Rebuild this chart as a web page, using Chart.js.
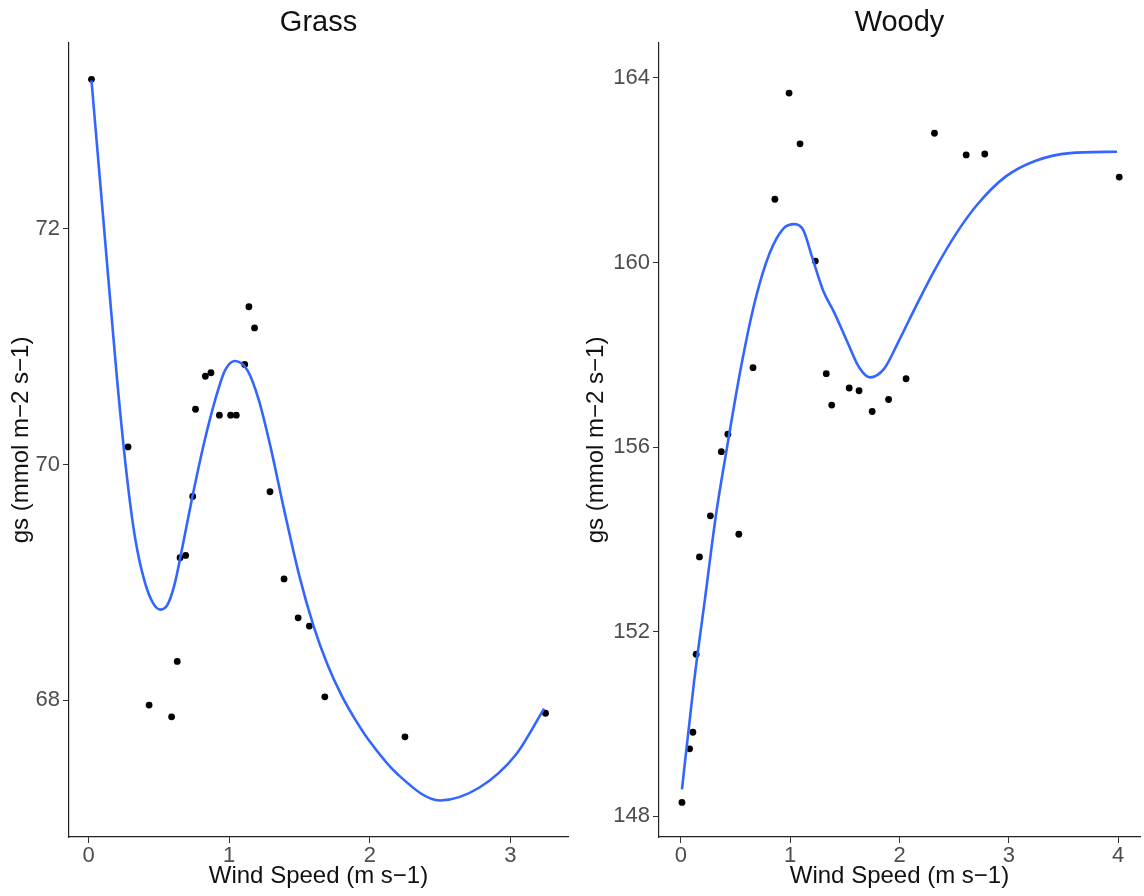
<!DOCTYPE html>
<html>
<head>
<meta charset="utf-8">
<script src="https://cdn.jsdelivr.net/npm/chart.js@4"></script>
<style>
  body { margin: 0; background: #fff; }
  .panel { position: absolute; top: 0; width: 572px; height: 896px; }
</style>
</head>
<body>
<div class="panel" style="left:0"><canvas id="grass" width="572" height="896"></canvas></div>
<div class="panel" style="left:572px"><canvas id="woody" width="572" height="896"></canvas></div>
<script>
// Grass: measured points
const grassX = [0.02, 0.28, 0.43, 0.59, 0.63, 0.65, 0.69, 0.74, 0.76, 0.83, 0.87, 0.93, 1.01, 1.05, 1.11, 1.14, 1.18, 1.29, 1.39, 1.49, 1.57, 1.68, 2.25, 3.25];
const grassY = [73.27, 70.15, 67.96, 67.86, 68.33, 69.21, 69.23, 69.73, 70.47, 70.75, 70.78, 70.42, 70.42, 70.42, 70.85, 71.34, 71.16, 69.77, 69.03, 68.70, 68.63, 68.03, 67.69, 67.89];
// Grass: smoothed fit
const grassFitX = [0.02, 0.11, 0.20, 0.27, 0.33, 0.40, 0.46, 0.51, 0.56, 0.61, 0.67, 0.74, 0.82, 0.90, 0.97, 1.04, 1.13, 1.21, 1.29, 1.39, 1.50, 1.60, 1.70, 1.80, 1.90, 2.00, 2.20, 2.50, 2.78, 3.04, 3.24];
const grassFitY = [73.26, 72.0, 70.75, 69.92, 69.38, 69.0, 68.82, 68.77, 68.81, 68.98, 69.32, 69.74, 70.18, 70.55, 70.80, 70.88, 70.80, 70.55, 70.17, 69.62, 69.05, 68.63, 68.30, 68.04, 67.83, 67.65, 67.37, 67.15, 67.26, 67.54, 67.93];

// Woody: measured points
const woodyX = [0.01, 0.08, 0.11, 0.14, 0.17, 0.27, 0.37, 0.43, 0.53, 0.66, 0.86, 0.99, 1.09, 1.23, 1.33, 1.38, 1.54, 1.63, 1.75, 1.90, 2.06, 2.32, 2.61, 2.78, 4.01];
const woodyY = [148.30, 149.46, 149.82, 151.51, 153.62, 154.51, 155.90, 156.28, 154.11, 157.72, 161.37, 163.67, 162.57, 160.03, 157.59, 156.91, 157.28, 157.22, 156.77, 157.03, 157.48, 162.80, 162.33, 162.35, 161.85];
// Woody: smoothed fit
const woodyFitX = [0.01, 0.12, 0.22, 0.32, 0.42, 0.55, 0.68, 0.81, 0.94, 1.04, 1.12, 1.20, 1.30, 1.40, 1.53, 1.63, 1.73, 1.86, 1.99, 2.15, 2.32, 2.52, 2.71, 2.97, 3.24, 3.56, 3.99];
const woodyFitY = [148.58, 150.9, 152.7, 154.51, 155.96, 157.73, 159.18, 160.19, 160.74, 160.83, 160.70, 160.12, 159.40, 158.93, 158.24, 157.73, 157.51, 157.70, 158.28, 159.05, 159.83, 160.63, 161.25, 161.86, 162.20, 162.37, 162.40];

const grassXTicks = [0, 1, 2, 3];
const grassYTicks = [68, 70, 72];
const woodyXTicks = [0, 1, 2, 3, 4];
const woodyYTicks = [148, 152, 156, 160, 164];

const FONT = "'Liberation Sans', Arial, sans-serif";
const xTitle = 'Wind Speed (m s\u22121)';
const yTitle = 'gs (mmol m\u22122 s\u22121)';

function pts(xs, ys) {
  return xs.map((x, i) => ({ x: x, y: ys[i] }));
}

function makePanel(id, title, px, py, fx, fy, xTicks, yTicks, xRange, yRange, yWidth, yTitlePad) {
  const axisCommon = {
    type: 'linear',
    grid: { display: true, drawOnChartArea: false, drawTicks: true, tickLength: 6, color: '#333', lineWidth: 1 },
    border: { display: true, color: '#222', width: 1.2 },
  };
  new Chart(document.getElementById(id), {
    type: 'scatter',
    data: {
      datasets: [
        {
          data: pts(fx, fy),
          showLine: true,
          borderColor: '#3366FF',
          borderWidth: 2.6,
          pointRadius: 0,
          cubicInterpolationMode: 'monotone',
          fill: false
        },
        {
          data: pts(px, py),
          backgroundColor: '#000',
          borderColor: '#000',
          pointRadius: 3.4,
          borderWidth: 0
        }
      ]
    },
    options: {
      responsive: false,
      animation: false,
      devicePixelRatio: 1,
      layout: { padding: 0 },
      plugins: {
        legend: { display: false },
        tooltip: { enabled: false },
        title: {
          display: true,
          text: title,
          fullSize: false,
          color: '#111',
          font: { family: FONT, size: 29, weight: 'normal' },
          padding: { top: 6, bottom: 2 }
        }
      },
      scales: {
        x: Object.assign({}, axisCommon, {
          min: xRange[0], max: xRange[1],
          afterBuildTicks: s => { s.ticks = xTicks.map(v => ({ value: v })); },
          afterFit: s => { s.height = 59; s.paddingLeft = 0; s.paddingRight = 0; },
          ticks: { color: '#4D4D4D', padding: 0, font: { family: FONT, size: 22 } },
          title: { display: true, text: xTitle, color: '#111', font: { family: FONT, size: 24 }, padding: { top: 0, bottom: 5 } }
        }),
        y: Object.assign({}, axisCommon, {
          min: yRange[0], max: yRange[1],
          afterBuildTicks: s => { s.ticks = yTicks.map(v => ({ value: v })); },
          afterFit: s => { s.width = yWidth; },
          ticks: { color: '#4D4D4D', padding: 3, font: { family: FONT, size: 22 } },
          title: { display: true, text: yTitle, color: '#111', font: { family: FONT, size: 24 }, padding: { top: yTitlePad, bottom: 0 } }
        })
      }
    }
  });
}

makePanel('grass', 'Grass', grassX, grassY, grassFitX, grassFitY,
  grassXTicks, grassYTicks, [-0.14, 3.41], [66.84, 73.58], 69, 7);
makePanel('woody', 'Woody', woodyX, woodyY, woodyFitX, woodyFitY,
  woodyXTicks, woodyYTicks, [-0.2, 4.2], [147.55, 164.76], 87, 10);
</script>
</body>
</html>
